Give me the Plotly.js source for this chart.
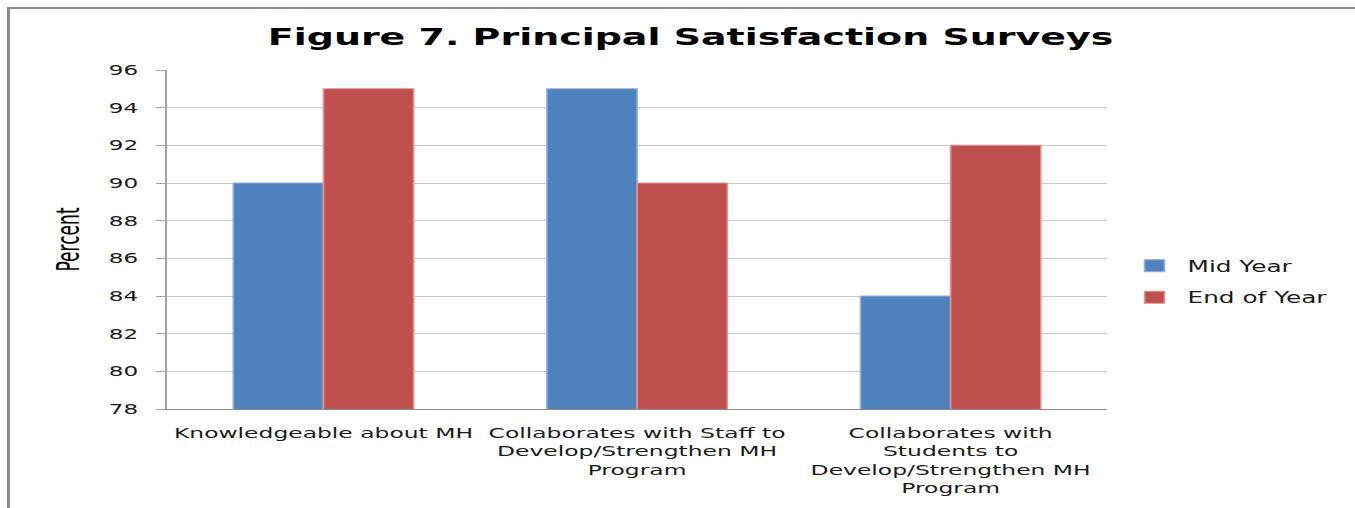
<!DOCTYPE html>
<html>
<head>
<meta charset="utf-8">
<script src="https://cdn.plot.ly/plotly-3.0.1.min.js"></script>
<style>
  html, body { margin: 0; padding: 0; background: #fff; overflow: hidden; }
  #frame { position: absolute; left: 7px; top: 7px; width: 1348px; height: 501px;
           border-left: 3px solid #8c8c8c; border-top: 2px solid #8c8c8c; box-sizing: border-box; }
  #wrap { position: absolute; left: 0; top: 0; width: 860px; height: 508px;
          transform: scaleX(1.65043); transform-origin: 0 0; }
  #chart { width: 860px; height: 508px; }
</style>
</head>
<body>
<div id="frame"></div>
<div id="wrap"><div id="chart"></div></div>
<script>
const categories = [
  "Knowledgeable about MH",
  "Collaborates with Staff to<br>Develop/Strengthen MH<br>Program",
  "Collaborates with<br>Students to<br>Develop/Strengthen MH<br>Program"
];
const midYear = [90, 95, 84];
const endOfYear = [95, 90, 92];
const yTicks = [78, 80, 82, 84, 86, 88, 90, 92, 94, 96];

const traces = [
  { type: 'bar', name: 'Mid Year', x: categories, y: midYear, legendgroup: 'a',
    marker: { color: '#4F81BD', line: { color: '#8fb0dc', width: 1 } } },
  { type: 'bar', name: 'End of Year', x: categories, y: endOfYear, legendgroup: 'b',
    marker: { color: '#C0504D', line: { color: '#e09290', width: 1 } } }
];

const layout = {
  width: 860, height: 508,
  margin: { l: 100.6, r: 188.5, t: 70, b: 99, pad: 0 },
  paper_bgcolor: 'rgba(0,0,0,0)', plot_bgcolor: 'rgba(0,0,0,0)',
  barmode: 'group', bargap: 0.425, bargroupgap: 0,
  showlegend: true,
  title: { text: 'Figure 7. Principal Satisfaction Surveys', x: 0.4865, xanchor: 'center',
           y: 0.927, yanchor: 'middle',
           font: { family: 'DejaVu Sans', size: 23, color: '#000', weight: 'bold' } },
  font: { family: 'DejaVu Sans', color: '#1a1a1a' },
  xaxis: { type: 'category', showline: true, linecolor: '#8c8c8c', linewidth: 1,
           ticks: '', ticklabelstandoff: 11,
           tickfont: { family: 'DejaVu Sans', size: 14.2, color: '#1a1a1a' },
           showgrid: false, zeroline: false, fixedrange: true },
  yaxis: { range: [78, 96], tickvals: yTicks, ticktext: yTicks.map(String),
           showline: true, linecolor: '#a0a0a0', linewidth: 1,
           ticks: 'outside', ticklen: 5.5, tickcolor: '#a0a0a0', ticklabelstandoff: 8,
           showgrid: true, gridcolor: '#c8c8c8', gridwidth: 1, zeroline: false,
           tickfont: { family: 'DejaVu Sans', size: 14, color: '#1a1a1a' },
           title: { text: 'Percent', standoff: 11.6,
                    font: { family: 'Liberation Sans Narrow, DejaVu Sans Condensed, sans-serif', size: 19, color: '#000' } } },
  legend: { x: 1.015, xanchor: 'left', y: 0.376, yanchor: 'middle',
            font: { family: 'DejaVu Sans', size: 15, color: '#1a1a1a' },
            bgcolor: 'rgba(0,0,0,0)', traceorder: 'grouped', tracegroupgap: 9 }
};

Plotly.newPlot('chart', traces, layout, { displayModeBar: false, staticPlot: true });
</script>
</body>
</html>
